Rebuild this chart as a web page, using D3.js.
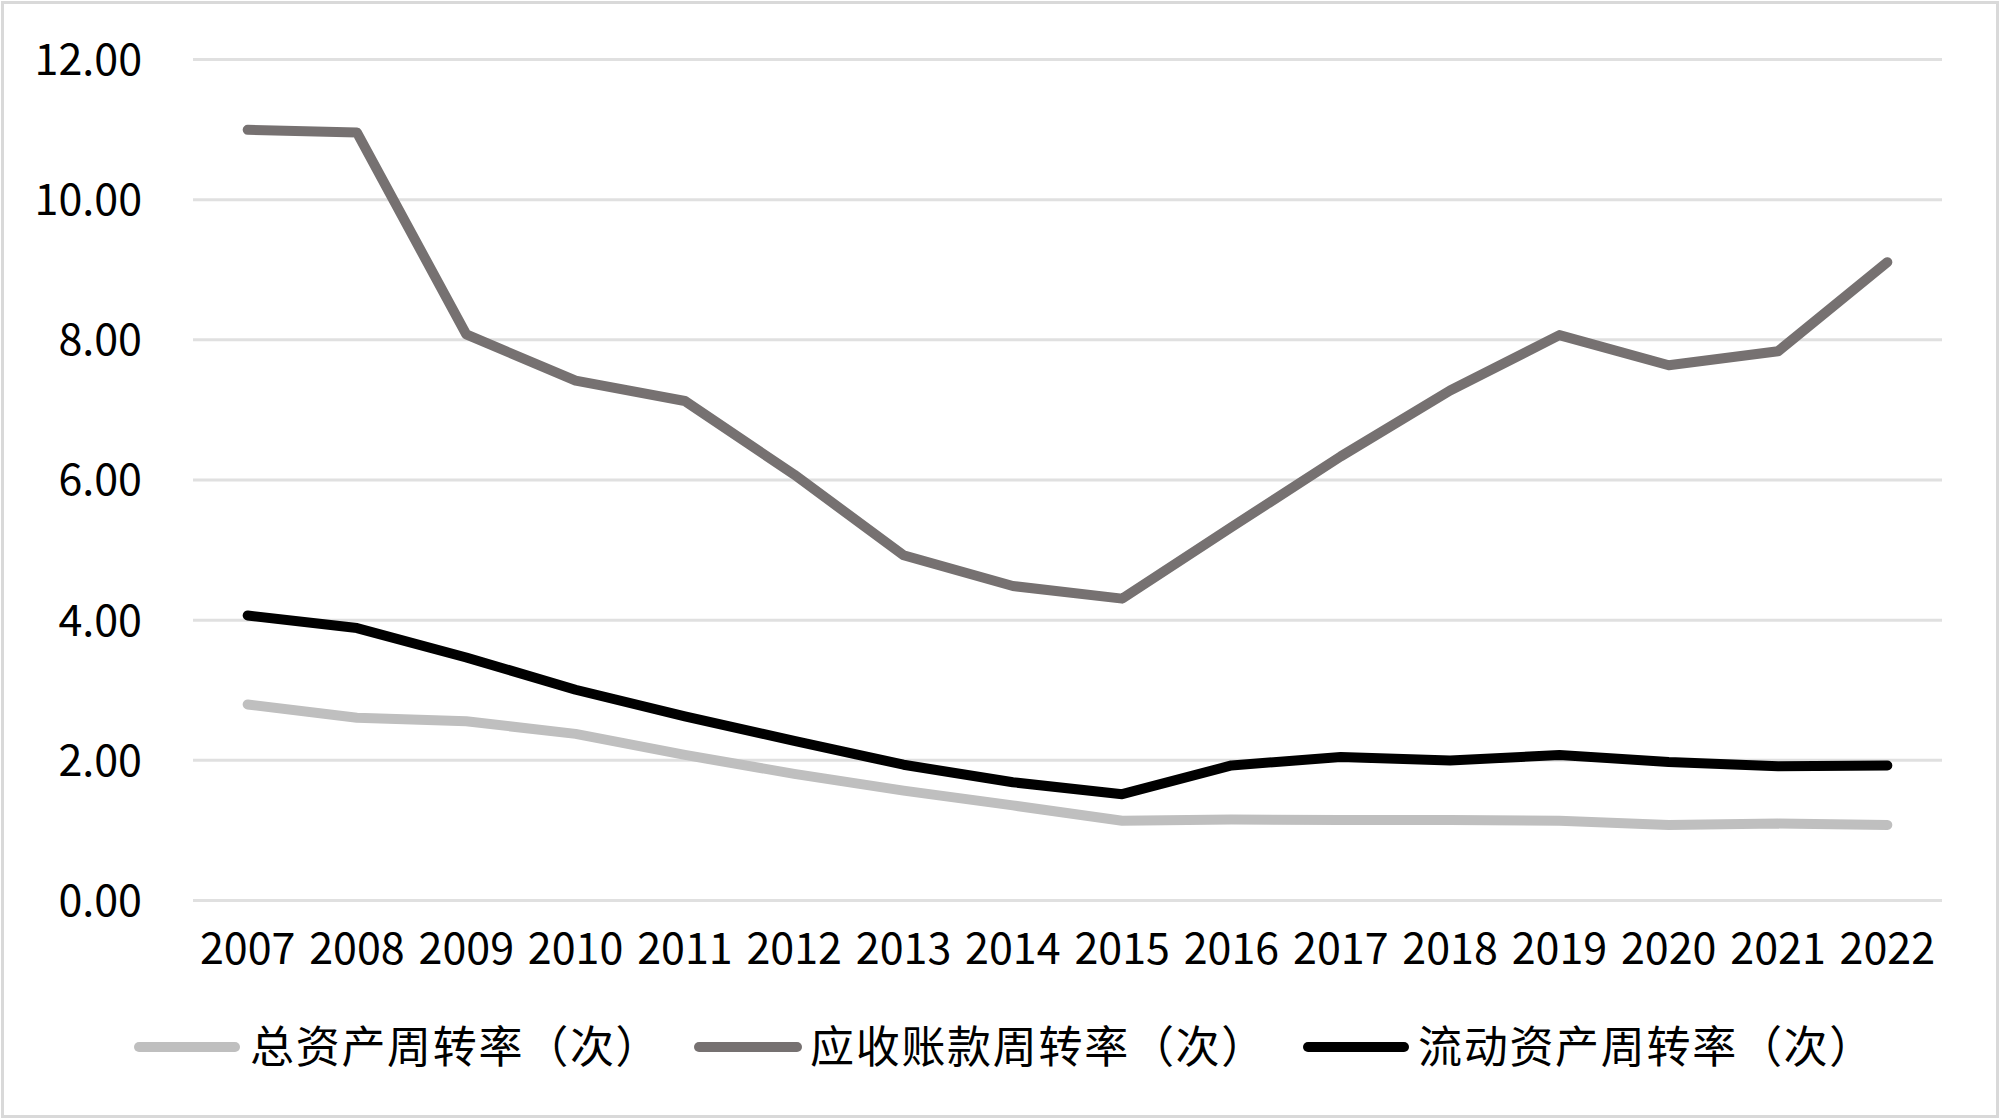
<!DOCTYPE html>
<html>
<head>
<meta charset="utf-8">
<script src="https://cdn.jsdelivr.net/npm/d3@7"></script>
<style>
  html, body { margin: 0; padding: 0; background: #fff; }
  svg { display: block; }
  text { font-family: "Noto Sans CJK SC", "Liberation Sans", sans-serif; fill: #000; }
</style>
</head>
<body>
<svg id="chart" width="2000" height="1120"></svg>
<script>
const years = ["2007","2008","2009","2010","2011","2012","2013","2014","2015","2016","2017","2018","2019","2020","2021","2022"];
const totalAssetTurnover = [2.79, 2.60, 2.55, 2.37, 2.07, 1.80, 1.56, 1.35, 1.13, 1.15, 1.14, 1.14, 1.13, 1.07, 1.09, 1.07];
const receivableTurnover = [10.99, 10.95, 8.07, 7.41, 7.12, 6.07, 4.92, 4.48, 4.30, 5.32, 6.33, 7.27, 8.06, 7.63, 7.83, 9.10];
const currentAssetTurnover = [4.06, 3.88, 3.46, 3.00, 2.62, 2.27, 1.93, 1.68, 1.51, 1.92, 2.04, 1.99, 2.07, 1.97, 1.91, 1.92];
const seriesNames = ["总资产周转率（次）", "应收账款周转率（次）", "流动资产周转率（次）"];
const seriesColors = ["#bfbfbf", "#767171", "#000000"];
const yTicks = [0, 2, 4, 6, 8, 10, 12];

const svg = d3.select("#chart");
const W = 2000, H = 1120;
const plot = { left: 193, right: 1942, top: 59, bottom: 900 };

// outer border
svg.append("rect")
  .attr("x", 2.5).attr("y", 2.5).attr("width", W - 5).attr("height", H - 6)
  .attr("fill", "#fff").attr("stroke", "#d9d9d9").attr("stroke-width", 3);

const x = d3.scaleBand().domain(years).range([plot.left, plot.right]).padding(0);
const y = d3.scaleLinear().domain([0, 12]).range([plot.bottom, plot.top]);

// gridlines + y labels
const yAxis = d3.axisLeft(y)
  .tickValues(yTicks)
  .tickFormat(d3.format(".2f"))
  .tickSize(-(plot.right - plot.left))
  .tickPadding(51);
const gy = svg.append("g").attr("transform", `translate(${plot.left},0)`).call(yAxis);
gy.select(".domain").remove();
gy.selectAll(".tick line").attr("stroke", "#e0e0e0").attr("stroke-width", 3);
gy.selectAll(".tick text")
  .attr("font-size", 43)
  .attr("dy", "0.36em")
  .style("font-family", "'Noto Sans CJK SC', 'Liberation Sans', sans-serif")
  .attr("fill", "#000");

// x labels
const xAxis = d3.axisBottom(x).tickSize(0).tickPadding(0);
const gx = svg.append("g").attr("transform", `translate(0,${plot.bottom})`).call(xAxis);
gx.select(".domain").remove();
gx.selectAll(".tick text")
  .attr("font-size", 43)
  .attr("y", 64)
  .attr("dy", 0)
  .style("font-family", "'Noto Sans CJK SC', 'Liberation Sans', sans-serif")
  .attr("fill", "#000");

// lines
const allSeries = [totalAssetTurnover, receivableTurnover, currentAssetTurnover];
const line = d3.line()
  .x((d, i) => x(years[i]) + x.bandwidth() / 2)
  .y(d => y(d));
allSeries.forEach((vals, k) => {
  svg.append("path")
    .datum(vals)
    .attr("d", line)
    .attr("fill", "none")
    .attr("stroke", seriesColors[k])
    .attr("stroke-width", 10)
    .attr("stroke-linecap", "round")
    .attr("stroke-linejoin", "round");
});

// legend
const legendY = 1047;
const legendItems = [
  { x1: 139, x2: 235, tx: 250 },
  { x1: 699, x2: 797, tx: 810 },
  { x1: 1308, x2: 1404, tx: 1418 }
];
const lg = svg.append("g");
legendItems.forEach((it, k) => {
  lg.append("line")
    .attr("x1", it.x1).attr("x2", it.x2)
    .attr("y1", legendY).attr("y2", legendY)
    .attr("stroke", seriesColors[k]).attr("stroke-width", 10)
    .attr("stroke-linecap", "round");
  lg.append("text")
    .attr("x", it.tx).attr("y", legendY)
    .attr("dy", "0.36em")
    .attr("font-size", 44)
    .attr("letter-spacing", 1.7)
    .text(seriesNames[k]);
});
</script>
</body>
</html>
